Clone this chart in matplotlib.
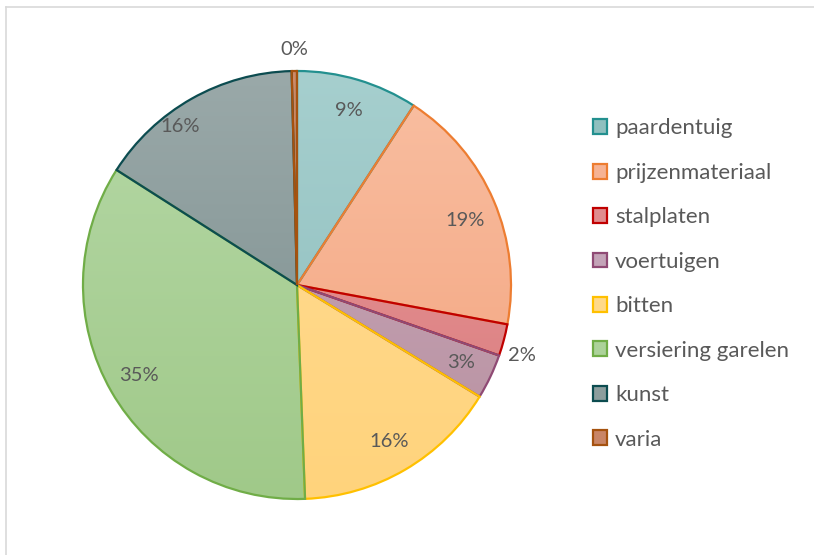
import numpy as np
import matplotlib
matplotlib.use("Agg")
import matplotlib.pyplot as plt
from matplotlib.patches import Patch
from matplotlib.lines import Line2D
from matplotlib.colors import LinearSegmentedColormap, to_rgb

categories = ["paardentuig", "prijzenmateriaal", "stalplaten", "voertuigen",
              "bitten", "versiering garelen", "kunst", "varia"]
values = [9.2, 18.8, 2.4, 3.4, 15.7, 34.7, 15.6, 0.4]

fill_top = ["#a6cfce", "#f9bfa2", "#e79a9b", "#c9aabd", "#ffdd96", "#b5d8a6", "#9aa9a9", "#d08a68"]
fill_bot = ["#8cbcbc", "#f3a27c", "#da7a7c", "#b8909f", "#ffd37c", "#a0c989", "#7a8c8c", "#c2703f"]
edges = ["#23908f", "#ed7d31", "#c00000", "#8f4a74", "#ffc000", "#70ad47", "#0c4c50", "#a5520f"]
legend_fill = ["#8fc0bf", "#f6b394", "#e08c8e", "#c3a3b7", "#ffd98a", "#acd29a", "#8c9d9d", "#c98566"]
outside = ["stalplaten", "varia"]

W, H = 814, 555
fig = plt.figure(figsize=(W / 100, H / 100), dpi=100)
fig.patch.set_facecolor("white")

# chart frame (clipped at right and bottom)
fig.add_artist(Line2D([6 / W, 1.0], [1 - 7 / H, 1 - 7 / H], color="#d9d9d9", lw=1.2))
fig.add_artist(Line2D([6 / W, 6 / W], [0, 1 - 7 / H], color="#d9d9d9", lw=1.2))

cx, cy, R = 297, 285, 214
ax = fig.add_axes([(cx - R) / W, (H - cy - R) / H, 2 * R / W, 2 * R / H])
ax.set_xlim(-1, 1)
ax.set_ylim(-1, 1)
ax.set_aspect("equal")
ax.axis("off")

wedges, _ = ax.pie(values, startangle=90, counterclock=False, radius=1,
                   colors=["none"] * len(values),
                   wedgeprops=dict(linewidth=1.6))

grad = np.linspace(0, 1, 256).reshape(-1, 1)
for w, t, b, e in zip(wedges, fill_top, fill_bot, edges):
    cmap = LinearSegmentedColormap.from_list("g", [to_rgb(t), to_rgb(b)])
    im = ax.imshow(grad, cmap=cmap, extent=[-1, 1, -1, 1], origin="upper",
                   aspect="auto", zorder=1)
    im.set_clip_path(w)
    w.set_edgecolor(e)
    w.set_facecolor("none")
    w.set_zorder(2)

total = sum(values)
for w, cat, v in zip(wedges, categories, values):
    ang = np.deg2rad((w.theta1 + w.theta2) / 2)
    if cat in outside:
        r = 1.1
        if cat == "stalplaten":
            ang = ang - np.deg2rad(2.5)
    elif cat == "kunst":
        r = 0.92
        ang = ang + np.deg2rad(7)
    elif cat == "prijzenmateriaal":
        r = 0.84
        ang = ang - np.deg2rad(2)
    else:
        r = 0.85
    ax.text(r * np.cos(ang), r * np.sin(ang), f"{round(v / total * 100):.0f}%",
            ha="center", va="center", fontsize=14.5, color="#595959",
            family="Lato", zorder=5, clip_on=False)
ax.set_xlim(-1, 1)
ax.set_ylim(-1, 1)

handles = [Patch(facecolor=f, edgecolor=e, linewidth=1.6) for f, e in zip(legend_fill, edges)]
leg = fig.legend(handles, categories, loc="center left",
                 bbox_to_anchor=(593 / W, 1 - 284 / H), frameon=False,
                 prop=dict(family="Lato", size=16), labelcolor="#595959",
                 handlelength=0.65, handleheight=0.65, handletextpad=0.35,
                 labelspacing=1.1, borderaxespad=0, borderpad=0)

fig.savefig("out.png", dpi=100, facecolor="white")
